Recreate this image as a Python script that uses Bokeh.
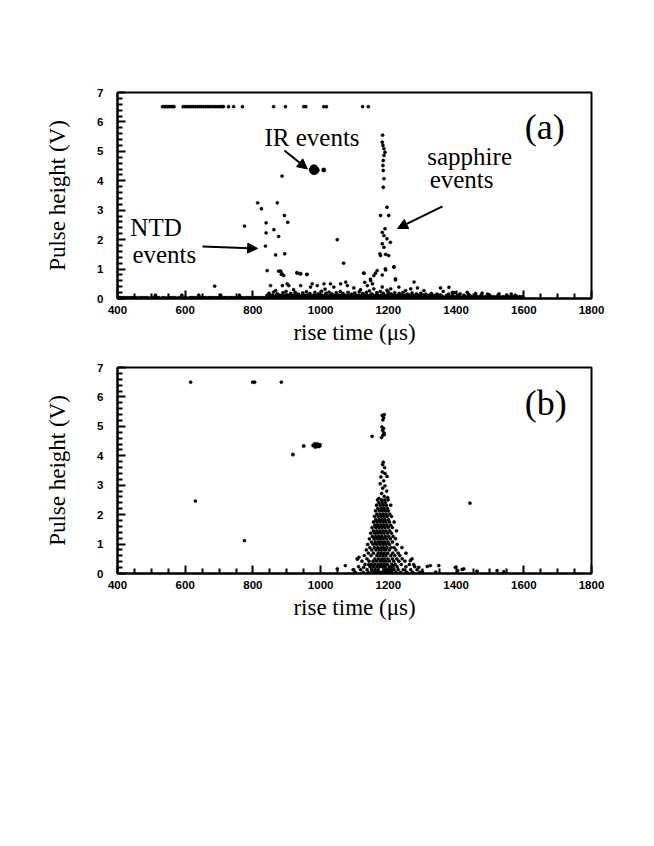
from bokeh.plotting import figure
from bokeh.models import Range1d, FixedTicker, Arrow, NormalHead
from bokeh.layouts import column
from bokeh.core.properties import value
from bokeh.embed import file_html
from bokeh.resources import INLINE

# ---------------- data: panel (a) ----------------
a_sat_level = 6.52
a_sat_x = [533, 538, 543, 548, 553, 558, 563, 567, 594, 600, 606, 612, 618, 624, 630, 636,
           642, 648, 654, 660, 666, 672, 678, 684, 690, 696, 702, 708, 713, 728, 743, 769,
           861, 896, 950, 956, 1009, 1017, 1124, 1141]

a_ir_x = [972, 976, 980, 984, 988, 974, 978, 982, 986, 990, 976, 980, 984, 988, 1009]
a_ir_y = [4.38, 4.46, 4.48, 4.46, 4.40, 4.32, 4.28, 4.28, 4.30, 4.36, 4.38, 4.38, 4.38, 4.36, 4.37]

a_ntd_x = [886, 814, 825, 872, 893, 903, 775, 839, 862, 839, 876, 837, 867, 894, 1049, 1068,
           842, 876, 886, 930, 940, 959, 687, 882, 891, 884, 931, 941, 960]
a_ntd_y = [4.16, 3.25, 3.05, 3.25, 2.82, 2.59, 2.46, 2.57, 2.34, 2.23, 2.11, 1.78, 1.48, 1.52, 2.00, 1.20,
           0.95, 0.93, 0.84, 0.88, 0.84, 0.82, 0.42, 0.93, 0.78, 0.82, 0.86, 0.84, 0.82]

a_sap_x = [1183, 1182, 1184, 1187, 1190, 1187, 1185, 1184, 1185, 1187, 1185, 1196, 1177, 1201, 1190,
           1182, 1187, 1196, 1206, 1182, 1187, 1175, 1201, 1216, 1191, 1127, 1162, 1182, 1147, 1221,
           1130, 1128, 1167, 1157, 1192, 1217, 1221, 1148, 1153, 1276, 1177, 1192]
a_sap_y = [5.55, 5.31, 5.20, 5.09, 4.97, 4.86, 4.69, 4.52, 4.35, 4.07, 3.78, 3.10, 2.82, 2.82, 2.37,
           2.25, 2.14, 2.03, 1.91, 1.86, 1.74, 1.52, 1.46, 1.07, 1.01, 0.86, 0.86, 0.80, 0.66, 0.63,
           0.55, 0.86, 0.95, 0.78, 0.97, 1.07, 0.67, 0.61, 0.50, 0.56, 1.46, 1.50]

a_low_pts = [(852, 0.44), (867, 0.27), (887, 0.44), (901, 0.50), (906, 0.44), (941, 0.44), (975, 0.50),
             (970, 0.39), (990, 0.44), (1010, 0.50), (1029, 0.50), (1039, 0.39), (1059, 0.50),
             (1074, 0.56), (1079, 0.44), (1098, 0.36), (1138, 0.44), (1157, 0.33), (1182, 0.39),
             (1207, 0.33), (1231, 0.39), (1251, 0.27), (1266, 0.33), (1286, 0.36), (1305, 0.27),
             (1354, 0.36), (1379, 0.38), (1389, 0.21), (1433, 0.21), (1477, 0.18),
             (848, 0.18), (861, 0.22), (872, 0.16), (889, 0.20), (898, 0.24), (912, 0.17), (925, 0.21),
             (934, 0.15), (947, 0.19), (958, 0.23), (968, 0.17), (983, 0.21), (994, 0.16), (1003, 0.25),
             (1016, 0.18), (1025, 0.22), (1033, 0.16), (1046, 0.20), (1058, 0.24), (1066, 0.17),
             (1081, 0.21), (1092, 0.15), (1101, 0.19), (1114, 0.23), (1124, 0.17), (1135, 0.21),
             (1144, 0.26), (1151, 0.16), (1166, 0.20), (1176, 0.24), (1185, 0.18), (1199, 0.22),
             (1208, 0.16), (1219, 0.20), (1232, 0.17), (1243, 0.21), (1257, 0.15), (1270, 0.19),
             (1283, 0.16), (1296, 0.18), (1311, 0.15), (1327, 0.17), (1344, 0.15), (1362, 0.24),
             (1378, 0.15), (1395, 0.20), (1412, 0.16), (1436, 0.15), (1458, 0.17), (1493, 0.15),
             (1527, 0.16), (1563, 0.15), (1013, 0.32), (1118, 0.30), (1196, 0.28), (920, 0.30)]

a_base_level0 = 0.025
a_base_x0 = [403, 405, 410, 416, 418, 423, 430, 436, 441, 447, 452, 458, 466, 472, 478, 484, 490, 499,
             505, 511, 517, 523, 533, 539, 548, 554, 560, 566, 572, 581, 587, 597, 603, 613, 618,
             622, 628, 634, 640, 646, 651, 656, 661, 668, 672, 677, 683, 688, 694, 700, 704, 709,
             715, 719, 724, 730, 735, 739, 745, 752, 758, 762, 766, 772, 779, 785, 791, 797, 804,
             809, 815, 820, 826, 831, 836, 845, 852, 859, 866,
             873, 880, 887, 894, 901, 908, 915, 922, 929, 936, 943, 950, 957, 964, 971, 978, 985,
             992, 999, 1006, 1013, 1020, 1027, 1034, 1041, 1048, 1055, 1062, 1069, 1076, 1083,
             1090, 1097, 1104, 1111, 1118, 1125, 1132, 1139, 1146, 1153, 1160, 1167, 1174, 1181,
             1188, 1195, 1202, 1209, 1216, 1223, 1230, 1237, 1244, 1251, 1258, 1265, 1272, 1279,
             1286, 1293, 1300, 1307, 1314, 1321, 1328, 1335, 1342, 1349, 1356, 1363, 1370, 1377,
             1384, 1391, 1398, 1405, 1412, 1419, 1426, 1433, 1440, 1447, 1454, 1461, 1468, 1475,
             1482, 1489, 1496, 1503, 1510, 1517, 1524, 1531, 1538, 1545, 1552, 1559, 1566, 1573,
             1580, 1587, 1594, 1599]
a_base_level2 = 0.065
a_base_x2 = [846, 855, 862, 871, 879, 890, 898, 906, 913, 925, 932, 940, 948, 956, 965, 974, 982,
             990, 998, 1008, 1016, 1024, 1032, 1040, 1050, 1058, 1066, 1074, 1083, 1092, 1100,
             1108, 1116, 1125, 1133, 1142, 1150, 1158, 1166, 1175, 1184, 1192, 1200, 1208, 1217,
             1225, 1233, 1242, 1250, 1259, 1268, 1276, 1284, 1293, 1302, 1310, 1318, 1326, 1335,
             1344, 1352, 1360, 1369, 1377, 1386, 1394, 1403, 1411, 1420, 1428, 1436, 1445, 1453,
             1462, 1470, 1479, 1487, 1495, 1504, 1512, 1521, 1529, 1538, 1546, 1554, 1563, 1571,
             1580, 1588, 1596]
a_base_level1 = 0.11
a_base_x1 = [842, 851, 858, 869, 877, 884, 895, 903, 911, 920, 927, 936, 946, 953, 961, 970, 979,
             986, 995, 1004, 1012, 1019, 1029, 1037, 1045, 1054, 1061, 1071, 1079, 1087, 1096,
             1103, 1112, 1121, 1129, 1137, 1146, 1154, 1163, 1170, 1179, 1188, 1196, 1204, 1213,
             1221, 1229, 1238, 1246, 1255, 1262, 1271, 1280, 1288, 1297, 1305, 1313, 1322, 1330,
             1339, 1356, 1373, 1389, 1406, 1423, 1440, 1457, 1474, 1499, 1524, 1550, 1575,
             760, 705, 640, 590, 512]

# ---------------- data: panel (b) ----------------
b_sat_level = 6.50
b_sat_x = [616, 799, 805, 884]

b_ir_x = [978, 982, 986, 990, 994, 998, 984, 990, 996, 950, 918]
b_ir_y = [4.35, 4.40, 4.38, 4.40, 4.36, 4.37, 4.30, 4.32, 4.32, 4.33, 4.04]

b_misc_pts = [(630, 2.46), (775, 1.12), (1441, 2.39), (1049, 0.16), (1073, 0.27), (1108, 0.49),
              (1113, 0.55), (1127, 0.21), (1142, 0.30), (1265, 0.44), (1275, 0.30), (1290, 0.21),
              (1315, 0.24), (1324, 0.27), (1349, 0.27), (1398, 0.21), (1405, 0.10), (1418, 0.14),
              (1423, 0.16), (1462, 0.08), (1521, 0.10), (1541, 0.06), (1300, 0.08), (1340, 0.05),
              (1152, 4.66), (1180, 4.62), (1184, 4.70), (1187, 4.78), (1183, 4.86), (1186, 4.93),
              (1181, 4.98), (1188, 4.72), (1182, 5.37), (1186, 5.30), (1184, 5.22), (1188, 5.40),
              (1185, 3.78), (1183, 3.70), (1189, 3.60), (1182, 3.45), (1190, 3.40), (1196, 3.30),
              (1178, 3.28), (1186, 3.15), (1176, 3.05), (1190, 2.98), (1183, 2.90), (1195, 2.80),
              (1180, 2.72), (1188, 2.62), (1198, 2.58), (1172, 2.55)]

b_cluster_levels = {
    0.04: [1102, 1126, 1141, 1157, 1165, 1174, 1181, 1189, 1196, 1203, 1211, 1222, 1236, 1255, 1272, 1293],
    0.13: [1096, 1118, 1137, 1151, 1161, 1170, 1186, 1193, 1201, 1209, 1217, 1229, 1244, 1266, 1285],
    0.23: [1112, 1146, 1156, 1166, 1175, 1183, 1191, 1206, 1214, 1226, 1252, 1278],
    0.31: [1131, 1150, 1160, 1170, 1179, 1188, 1197, 1210, 1220, 1238, 1262],
    0.42: [1122, 1143, 1155, 1165, 1176, 1185, 1193, 1203, 1216, 1231, 1249],
    0.50: [1109, 1137, 1160, 1171, 1181, 1189, 1199, 1212, 1225, 1241, 1270],
    0.61: [1129, 1149, 1166, 1175, 1184, 1193, 1207, 1219, 1234],
    0.69: [1141, 1156, 1170, 1179, 1188, 1198, 1213, 1229, 1252],
    0.80: [1135, 1151, 1164, 1174, 1183, 1192, 1203, 1222],
    0.88: [1145, 1159, 1169, 1179, 1187, 1196, 1208, 1217, 1240],
    0.99: [1139, 1155, 1165, 1175, 1184, 1193, 1203, 1226],
    1.07: [1150, 1161, 1171, 1180, 1189, 1199, 1212],
    1.18: [1144, 1158, 1167, 1176, 1185, 1195, 1206, 1221],
    1.26: [1153, 1163, 1172, 1181, 1191, 1201, 1214],
    1.37: [1148, 1160, 1169, 1178, 1187, 1197, 1209],
    1.45: [1156, 1166, 1175, 1184, 1193, 1204, 1224],
    1.56: [1152, 1163, 1172, 1181, 1190, 1200, 1212],
    1.64: [1160, 1169, 1178, 1187, 1196, 1207],
    1.75: [1156, 1166, 1175, 1184, 1193, 1203, 1217],
    1.83: [1163, 1173, 1182, 1190, 1200],
    1.94: [1159, 1170, 1179, 1188, 1197, 1209],
    2.02: [1166, 1176, 1185, 1194, 1204],
    2.13: [1162, 1173, 1182, 1191, 1200],
    2.21: [1169, 1179, 1188, 1197],
    2.32: [1165, 1176, 1185, 1194, 1207],
    2.41: [1172, 1182, 1191],
    2.50: [1168, 1180, 1189, 1199],
}

# ---------------- axes / annotations ----------------
X_MIN, X_MAX, Y_MIN, Y_MAX = 400, 1800, 0, 7
x_ticks = [400, 600, 800, 1000, 1200, 1400, 1600, 1800]
x_minor = [450, 500, 550, 650, 700, 750, 850, 900, 950, 1050, 1100, 1150,
           1250, 1300, 1350, 1450, 1500, 1550, 1650, 1700, 1750]
y_ticks = [0, 1, 2, 3, 4, 5, 6, 7]
y_minor = [0.2, 0.4, 0.6, 0.8, 1.2, 1.4, 1.6, 1.8, 2.2, 2.4, 2.6, 2.8, 3.2, 3.4, 3.6, 3.8,
           4.2, 4.4, 4.6, 4.8, 5.2, 5.4, 5.6, 5.8, 6.2, 6.4, 6.6, 6.8]

a_labels = ["IR events", "NTD", "events", "sapphire", "events"]
a_label_x = [834, 438, 444, 1315, 1322]
a_label_y = [5.48, 2.41, 1.50, 4.81, 4.06]
panel_tags = ["(a)", "(b)"]
panel_tag_x = [1603, 1603]
panel_tag_y = [5.82, 5.80]

arrow_x0 = [893, 651, 1360]
arrow_y0 = [5.03, 1.77, 3.13]
arrow_x1 = [961, 814, 1227]
arrow_y1 = [4.40, 1.70, 2.38]


def make_fig(height, top_border):
    p = figure(width=646, height=height, output_backend="svg", toolbar_location=None,
               x_range=Range1d(X_MIN, X_MAX), y_range=Range1d(Y_MIN, Y_MAX),
               min_border_left=117, min_border_right=55, min_border_top=top_border,
               min_border_bottom=55, background_fill_color="white", border_fill_color="white")
    p.grid.visible = False
    p.outline_line_color = "black"
    p.outline_line_width = 2
    p.xaxis.ticker = FixedTicker(ticks=x_ticks, minor_ticks=x_minor)
    p.yaxis.ticker = FixedTicker(ticks=y_ticks, minor_ticks=y_minor)
    for ax in (p.xaxis, p.yaxis):
        ax.axis_line_color = "black"
        ax.axis_line_width = 2
        ax.major_tick_in = 8
        ax.major_tick_out = 0
        ax.minor_tick_in = 5
        ax.minor_tick_out = 0
        ax.major_tick_line_width = 2
        ax.minor_tick_line_width = 2
        ax.major_tick_line_color = "black"
        ax.minor_tick_line_color = "black"
        ax.major_label_text_font = "Liberation Sans"
        ax.major_label_text_font_style = "bold"
        ax.major_label_text_font_size = "11.5px"
        ax.major_label_text_color = "black"
        ax.axis_label_text_font = "Liberation Serif"
        ax.axis_label_text_font_style = "normal"
        ax.axis_label_text_font_size = "23px"
        ax.axis_label_text_color = "black"
    p.xaxis.axis_label = "rise time (\u03bcs)"
    p.yaxis.axis_label = "Pulse height (V)"
    p.xaxis.major_label_standoff = 7
    p.xaxis.axis_label_standoff = 3
    p.yaxis.major_label_standoff = 14
    p.yaxis.axis_label_standoff = 24
    return p


def dots(p, xs, ys, size=3.3):
    p.scatter(list(xs), list(ys), size=size, marker="circle", fill_color="black",
              line_color="black", line_width=0.3)


serif = value("Liberation Serif")

# ---- panel (a)
pa = make_fig(353, 92)
dots(pa, a_sat_x, [a_sat_level] * len(a_sat_x))
dots(pa, a_ir_x, a_ir_y, size=4.5)
dots(pa, a_ntd_x, a_ntd_y)
dots(pa, a_sap_x, a_sap_y)
lx, ly = zip(*a_low_pts)
dots(pa, lx, ly)
dots(pa, a_base_x0, [a_base_level0] * len(a_base_x0))
dots(pa, a_base_x2, [a_base_level2] * len(a_base_x2))
dots(pa, a_base_x1, [a_base_level1] * len(a_base_x1))
pa.text(x=a_label_x, y=a_label_y, text=a_labels, text_font=serif, text_font_size=value("25px"),
        text_align="left", text_baseline="alphabetic", text_color="black")
pa.text(x=[panel_tag_x[0]], y=[panel_tag_y[0]], text=[panel_tags[0]], text_font=serif,
        text_font_size=value("36px"), text_align="left", text_baseline="alphabetic", text_color="black")
for i in range(len(arrow_x0)):
    pa.add_layout(Arrow(end=NormalHead(size=10, fill_color="black", line_color="black"),
                        x_start=arrow_x0[i], y_start=arrow_y0[i], x_end=arrow_x1[i], y_end=arrow_y1[i],
                        line_width=2, line_color="black"))

# ---- panel (b)
pb = make_fig(275, 14)
dots(pb, b_sat_x, [b_sat_level] * len(b_sat_x))
dots(pb, b_ir_x, b_ir_y, size=3.6)
mx, my = zip(*b_misc_pts)
dots(pb, mx, my)
cx, cy = [], []
for lev, xs in b_cluster_levels.items():
    cx.extend(xs)
    cy.extend([lev] * len(xs))
dots(pb, cx, cy)
pb.text(x=[panel_tag_x[1]], y=[panel_tag_y[1]], text=[panel_tags[1]], text_font=serif,
        text_font_size=value("36px"), text_align="left", text_baseline="alphabetic", text_color="black")

layout = column(pa, pb)
open("out.html", "w").write(file_html(layout, INLINE))
